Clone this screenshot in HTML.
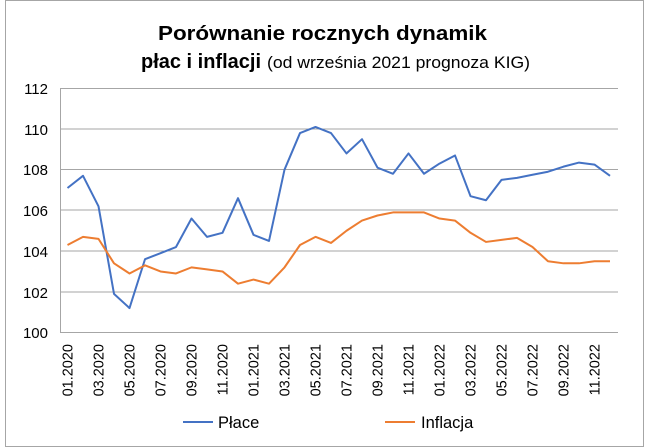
<!DOCTYPE html>
<html><head><meta charset="utf-8"><style>
body{margin:0;background:#fff}
svg{display:block;font-family:"Liberation Sans",Calibri,sans-serif}
</style></head><body>
<svg width="648" height="448" xmlns="http://www.w3.org/2000/svg">
<rect x="0" y="0" width="648" height="448" fill="#fff"/>
<rect x="5.5" y="0.5" width="638" height="446" fill="none" stroke="#a6a6a6"/>
<text x="158" y="40" font-size="20" font-weight="bold" fill="#000" textLength="329" lengthAdjust="spacingAndGlyphs">Porównanie rocznych dynamik</text>
<text x="141" y="68" font-size="20" font-weight="bold" fill="#000" textLength="120" lengthAdjust="spacingAndGlyphs">płac i inflacji</text>
<text x="267" y="68" font-size="17" fill="#000" textLength="263" lengthAdjust="spacingAndGlyphs">(od września 2021 prognoza KIG)</text>
<g stroke="#a6a6a6" stroke-width="1">
<line x1="60" x2="618" y1="88.5" y2="88.5"/>
<line x1="60" x2="618" y1="129" y2="129"/>
<line x1="60" x2="618" y1="169.5" y2="169.5"/>
<line x1="60" x2="618" y1="210" y2="210"/>
<line x1="60" x2="618" y1="251" y2="251"/>
<line x1="60" x2="618" y1="292" y2="292"/>
<line x1="60" x2="618" y1="332.5" y2="332.5"/>
<line x1="60.5" x2="60.5" y1="88" y2="333"/>
</g>
<g font-size="15" fill="#000" text-anchor="end">
<text x="48" y="94">112</text><text x="48" y="135">110</text><text x="48" y="175">108</text><text x="48" y="216">106</text><text x="48" y="257">104</text><text x="48" y="298">102</text><text x="48" y="338">100</text>
</g>
<g font-size="14.5" fill="#000" text-anchor="end">
<text transform="translate(72.5,344) rotate(-90)">01.2020</text>
<text transform="translate(103.5,344) rotate(-90)">03.2020</text>
<text transform="translate(134.5,344) rotate(-90)">05.2020</text>
<text transform="translate(165.5,344) rotate(-90)">07.2020</text>
<text transform="translate(196.5,344) rotate(-90)">09.2020</text>
<text transform="translate(227.5,344) rotate(-90)">11.2020</text>
<text transform="translate(258.5,344) rotate(-90)">01.2021</text>
<text transform="translate(289.5,344) rotate(-90)">03.2021</text>
<text transform="translate(320.5,344) rotate(-90)">05.2021</text>
<text transform="translate(351.5,344) rotate(-90)">07.2021</text>
<text transform="translate(382.5,344) rotate(-90)">09.2021</text>
<text transform="translate(413.5,344) rotate(-90)">11.2021</text>
<text transform="translate(444.5,344) rotate(-90)">01.2022</text>
<text transform="translate(475.5,344) rotate(-90)">03.2022</text>
<text transform="translate(506.5,344) rotate(-90)">05.2022</text>
<text transform="translate(537.5,344) rotate(-90)">07.2022</text>
<text transform="translate(568.5,344) rotate(-90)">09.2022</text>
<text transform="translate(599.5,344) rotate(-90)">11.2022</text>
</g>
<polyline id="p1" fill="none" stroke="#4472c4" stroke-width="2" stroke-linejoin="round"/>
<polyline id="p2" fill="none" stroke="#ed7d31" stroke-width="2" stroke-linejoin="round"/>
<line x1="183" x2="213" y1="422" y2="422" stroke="#4472c4" stroke-width="2"/>
<text x="218" y="428" font-size="16.5" fill="#000">Płace</text>
<line x1="385" x2="415" y1="422" y2="422" stroke="#ed7d31" stroke-width="2"/>
<text x="421" y="428" font-size="16.5" fill="#000">Inflacja</text>
<script>
var a=[107.1,107.7,106.2,101.9,101.2,103.6,103.9,104.2,105.6,104.7,104.9,106.6,104.8,104.5,108.0,109.8,110.1,109.8,108.8,109.5,108.1,107.8,108.8,107.8,108.3,108.7,106.7,106.5,107.5,107.6,107.75,107.9,108.15,108.35,108.25,107.7];
var b=[104.3,104.7,104.6,103.4,102.9,103.3,103.0,102.9,103.2,103.1,103.0,102.4,102.6,102.4,103.2,104.3,104.7,104.4,105.0,105.5,105.75,105.9,105.9,105.9,105.6,105.5,104.9,104.45,104.55,104.65,104.2,103.5,103.4,103.4,103.5,103.5];
function X(i){return 67.5+i*15.5}function Y(v){return 332.5-(v-100)*20.35}
document.getElementById('p1').setAttribute('points',a.map(function(v,i){return X(i)+','+Y(v)}).join(' '));
document.getElementById('p2').setAttribute('points',b.map(function(v,i){return X(i)+','+Y(v)}).join(' '));
</script>
</svg>
</body></html>
